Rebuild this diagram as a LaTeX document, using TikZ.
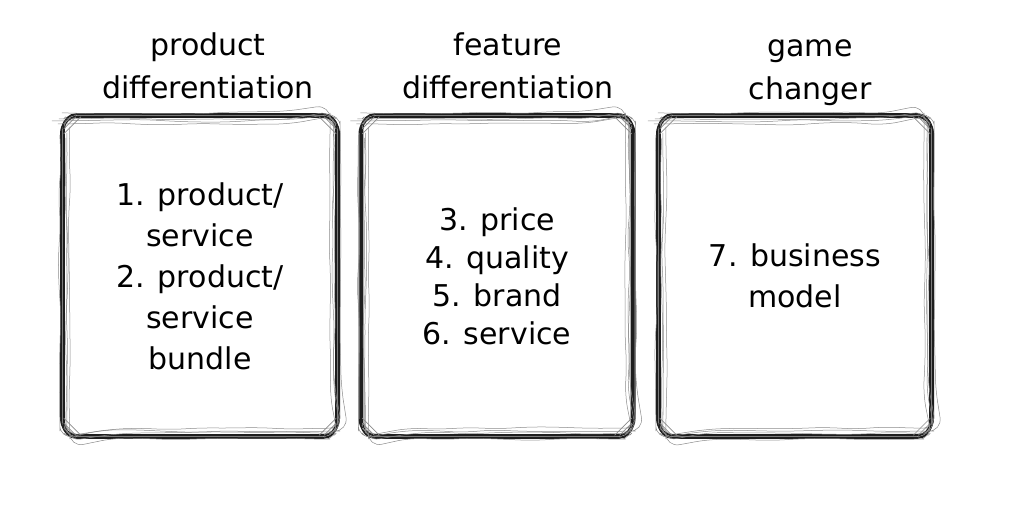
\documentclass[tikz,border=0pt]{standalone}
\usepackage{fontspec}
\setmainfont{DejaVu Sans}
\usetikzlibrary{positioning,calc,decorations.pathmorphing}
\definecolor{skink}{HTML}{1E1E1E}
\definecolor{skgray}{HTML}{8A8A8A}
\tikzset{
  panel/.style  ={minimum width=276pt, minimum height=322pt, inner sep=0pt,
                  align=center, font=\fontsize{30}{41}\selectfont},
  caption/.style={align=center, font=\fontsize{30}{43}\selectfont},
  stroke/.style ={draw=skink, line width=1.2pt},
  faint/.style  ={draw=skgray, line width=0.5pt, rounded corners=14pt,
                  decorate, decoration={random steps, segment length=30pt, amplitude=1.5pt}},
  scratch/.style={draw=skgray, line width=0.6pt, line cap=round},
}
% hand drawn outline round a panel
\newcommand{\sketchbox}[1]{%
  \foreach \dx/\dy/\r in {0/0/15,1.5/-1/13,-1.2/1.5/17,2.5/2.5/12}{%
    \draw[stroke, rounded corners=\r pt] ($(#1.north west)+(\dx,\dy)$) rectangle ($(#1.south east)+(-\dx,-\dy)$);}
  \foreach \dx/\dy in {5/4,-2/6,8/-2,4/9}{%
    \draw[faint] ($(#1.north west)+(\dx,\dy)$) rectangle ($(#1.south east)+(-\dx,-\dy)$);}
  % corner hatching
  \foreach \c/\sx/\sy in {north west/1/1,north east/-1/1,south west/1/-1,south east/-1/-1}{%
    \foreach \k in {4,9,14,19}{%
      \draw[scratch] ($(#1.\c)+(\sx*\k,\sy*2)$) -- ($(#1.\c)+(\sx*2,\sy*\k)$);}}}

\begin{document}
\begin{tikzpicture}[x=1pt,y=-1pt]
  \useasboundingbox (0,0) rectangle (1024,512);
  \pgfmathsetseed{7}
  % panels
  \node[panel] (p1) at (200,276) {1. product/\\service\\2. product/\\service\\bundle};
  \node[panel, minimum width=273pt, font=\fontsize{30}{38}\selectfont] (p2) at (497,276)
       {3. price\\4. quality\\5. brand\\6. service};
  \node[panel, minimum width=274pt] (p3) at (795,276) {7. business\\model};
  \foreach \p in {p1,p2,p3}{\sketchbox{\p}}
  % headings
  \node[caption] (t1) at (208,66) {product\\differentiation};
  \node[caption] (t2) at (508,66) {feature\\differentiation};
  \node[caption] (t3) at (810,73) {game\\changer};
\end{tikzpicture}
\end{document}
